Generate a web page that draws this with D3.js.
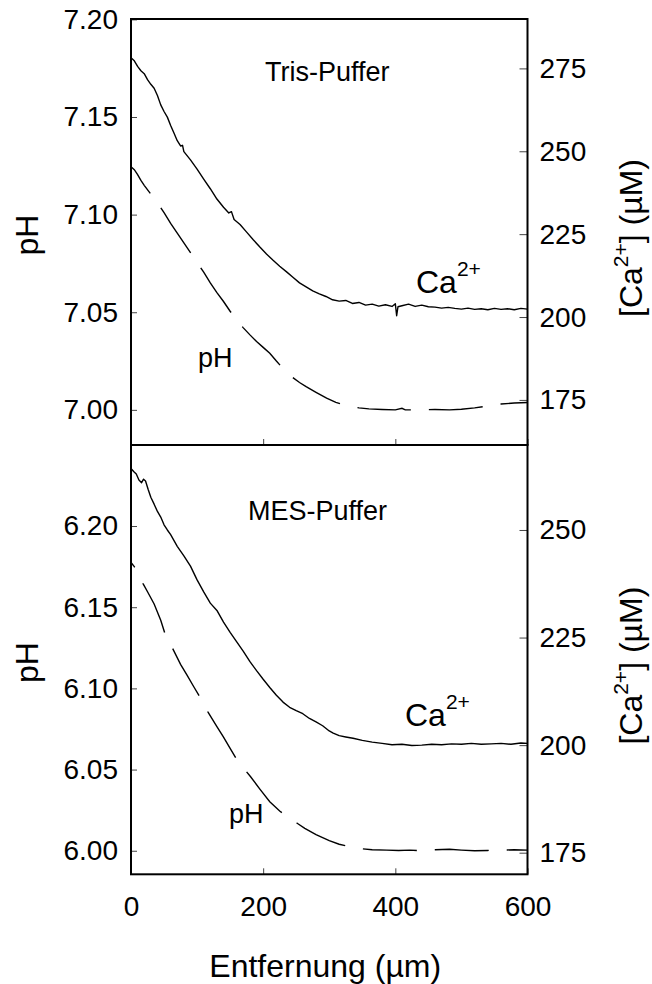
<!DOCTYPE html>
<html><head><meta charset="UTF-8">
<style>
  body { margin: 0; background: #fff; }
  svg { display: block; font-family: "Liberation Sans", Arial, Helvetica, sans-serif; }
  .tick line { stroke: #444; stroke-width: 1; }
</style>
</head>
<body>
<svg id="chart"></svg>
<script src="https://cdn.jsdelivr.net/npm/d3@7"></script>
<script>
// x axis ticks (µm)
var xTicks = [0, 200, 400, 600];

// Tris-Puffer: Ca2+ trace
var trisCaDist = [0,5,10,15,20,25,30,35,40,45,50,55,60,65,70,75,78,80,90,100,110,120,130,140,148,152,156,165,175,185,195,205,215,225,235,245,255,265,275,285,295,305,315,325,335,345,355,365,375,385,395,400,402,404,410,420,430,440,450,460,470,480,490,500,510,520,530,540,550,560,570,580,590,600];
var trisCa = [278.2,277.3,275.6,274.3,273.4,271.6,270.2,269.0,266.8,264.0,262.0,260.3,257.8,255.5,253.2,251.6,251.8,249.9,247.4,244.6,241.6,238.7,235.6,233.1,231.4,231.8,229.4,227.9,225.6,223.3,221.1,219.0,217.1,215.3,213.7,212.0,210.3,209.1,207.9,207.0,206.2,205.2,204.8,205.0,204.1,204.4,203.6,203.9,203.3,203.7,203.2,204.0,200.4,203.1,203.4,203.9,203.2,203.6,203.1,203.0,202.7,202.9,202.6,202.4,202.7,202.3,202.5,202.2,202.6,202.3,202.5,202.2,202.6,202.4];

// Tris-Puffer: pH trace
var trisPhDist = [0,5,10,15,20,30,40,50,60,70,80,90,100,110,120,130,140,150,160,170,180,190,200,210,220,230,243,255,265,280,296,310,320,331,345,360,380,400,410,415,440,460,482,500,520,540,560,580,600];
var trisPh = [7.1245,7.1230,7.1205,7.1175,7.1150,7.1105,7.1060,7.1010,7.0955,7.0905,7.0855,7.0805,7.0755,7.0705,7.0650,7.0600,7.0555,7.0505,7.0460,7.0420,7.0384,7.0350,7.0320,7.0290,7.0250,7.0212,7.0170,7.0140,7.0119,7.0090,7.0060,7.0038,7.0028,7.0017,7.0010,7.0005,7.0002,7.0000,7.0008,7.0000,7.0000,7.0002,7.0000,7.0003,7.0010,7.0020,7.0030,7.0035,7.0038];

// MES-Puffer: Ca2+ trace
var mesCaDist = [0,4,8,12,16,19,22,26,30,35,40,45,50,55,60,70,80,90,100,110,120,130,140,150,160,170,180,190,200,210,220,230,240,250,260,270,280,290,300,306,315,325,336,350,365,380,395,410,425,440,455,470,485,500,515,530,545,560,575,590,600];
var mesCa = [264.3,263.6,263.0,261.6,261.0,261.8,261.4,259.4,257.6,256.0,254.3,253.0,251.2,250.0,248.9,246.2,244.0,241.6,238.4,235.6,233.0,231.3,228.6,226.2,224.0,221.8,219.4,217.3,215.3,213.4,211.6,210.0,208.8,208.0,207.3,206.2,205.4,204.5,203.3,202.8,202.2,201.9,201.6,201.1,200.7,200.4,200.1,200.2,199.9,200.0,200.2,200.1,200.3,200.2,200.4,200.2,200.3,200.4,200.2,200.5,200.4];

// MES-Puffer: pH trace
var mesPhDist = [0,5,10,18,25,35,45,51,63,75,85,95,104,117,130,140,150,162,172,181,195,210,225,240,252,263,280,300,315,331,350,365,387,405,422,440,460,482,500,520,540,560,580,600];
var mesPh = [6.1775,6.1750,6.1715,6.1647,6.1595,6.1520,6.1420,6.1342,6.1246,6.1148,6.1080,6.1010,6.0948,6.0850,6.0765,6.0700,6.0630,6.0548,6.0500,6.0456,6.0380,6.0302,6.0245,6.0200,6.0168,6.0138,6.0100,6.0062,6.0040,6.0025,6.0012,6.0006,6.0004,6.0002,6.0004,6.0000,6.0006,6.0009,6.0004,6.0000,6.0002,6.0004,6.0006,6.0004];

// axis ticks
var trisPhTicks = [7.00, 7.05, 7.10, 7.15, 7.20];
var trisCaTicks = [175, 200, 225, 250, 275];
var mesPhTicks = [6.00, 6.05, 6.10, 6.15, 6.20];
var mesCaTicks = [175, 200, 225, 250];

var width = 652, height = 984;
var left = 131, right = 527.5;
var svg = d3.select("#chart").attr("width", width).attr("height", height);

var x = d3.scaleLinear().domain([0, 600]).range([left, right]);

var panels = [
  {top: 19, bottom: 445, phDomain: [6.982, 7.2002], caDomain: [161.4, 289.9],
   phTicks: trisPhTicks, caTicks: trisCaTicks,
   caDist: trisCaDist, ca: trisCa, phDist: trisPhDist, ph: trisPh,
   dashOffset: 21, title: "Tris-Puffer", titleX: 265, titleY: 81,
   phLabel: [198, 367], caLabel: [416, 293], showX: false},
  {top: 445, bottom: 874.3, phDomain: [5.9855, 6.2499], caDomain: [169.98, 269.75],
   phTicks: mesPhTicks, caTicks: mesCaTicks,
   caDist: mesCaDist, ca: mesCa, phDist: mesPhDist, ph: mesPh,
   dashOffset: 48, title: "MES-Puffer", titleX: 248, titleY: 520,
   phLabel: [229, 823], caLabel: [405, 726], showX: true}
];

panels.forEach(function (p) {
  var yPh = d3.scaleLinear().domain(p.phDomain).range([p.bottom, p.top]);
  var yCa = d3.scaleLinear().domain(p.caDomain).range([p.bottom, p.top]);
  var g = svg.append("g");

  // left pH axis, ticks pointing inward
  g.append("g").attr("transform", "translate(" + left + ",0)")
    .call(d3.axisLeft(yPh).tickValues(p.phTicks).tickFormat(d3.format(".2f"))
      .tickSize(-6).tickPadding(13))
    .call(function (a) { a.select(".domain").remove(); });

  // right Ca axis
  g.append("g").attr("transform", "translate(" + right + ",0)")
    .call(d3.axisRight(yCa).tickValues(p.caTicks).tickSize(-8).tickPadding(12))
    .call(function (a) { a.select(".domain").remove(); });

  // bottom x axis
  var xAxis = d3.axisBottom(x).tickValues(xTicks).tickSize(-6).tickPadding(22);
  if (!p.showX) xAxis.tickFormat("");
  g.append("g").attr("transform", "translate(0," + p.bottom + ")")
    .call(xAxis)
    .call(function (a) { a.select(".domain").remove(); });

  g.selectAll("g").attr("font-family", null).attr("font-size", null);
  g.selectAll(".tick text").attr("font-size", 28).attr("fill", "#000");

  // frame
  g.append("rect")
    .attr("x", left).attr("y", p.top)
    .attr("width", right - left).attr("height", p.bottom - p.top)
    .attr("fill", "none").attr("stroke", "#000").attr("stroke-width", 2);

  // Ca2+ trace (solid)
  var caLine = d3.line().x(function (d, i) { return x(p.caDist[i]); })
    .y(function (d) { return yCa(d); });
  g.append("path").datum(p.ca).attr("d", caLine)
    .attr("fill", "none").attr("stroke", "#000").attr("stroke-width", 1.4)
    .attr("stroke-linejoin", "round");

  // pH trace (dashed)
  var phLine = d3.line().x(function (d, i) { return x(p.phDist[i]); })
    .y(function (d) { return yPh(d); });
  g.append("path").datum(p.ph).attr("d", phLine)
    .attr("fill", "none").attr("stroke", "#000").attr("stroke-width", 1.4)
    .attr("stroke-dasharray", "54,18").attr("stroke-dashoffset", p.dashOffset);

  // annotations
  g.append("text").attr("x", p.titleX).attr("y", p.titleY)
    .attr("font-size", 27).text(p.title);
  g.append("text").attr("x", p.phLabel[0]).attr("y", p.phLabel[1])
    .attr("font-size", 27).text("pH");
  var ca = g.append("text").attr("x", p.caLabel[0]).attr("y", p.caLabel[1])
    .attr("font-size", 32);
  ca.append("tspan").text("Ca");
  ca.append("tspan").attr("dy", -17).attr("font-size", 21).text("2+");

  // left title
  svg.append("text")
    .attr("transform", "translate(38," + ((p.top + p.bottom) / 2 + 3) + ") rotate(-90)")
    .attr("text-anchor", "middle").attr("font-size", 32).text("pH");

  // right title
  var rt = svg.append("text")
    .attr("transform", "translate(642," + ((p.top + p.bottom) / 2 + 6) + ") rotate(-90)")
    .attr("text-anchor", "middle").attr("font-size", 32);
  rt.append("tspan").text("[Ca");
  rt.append("tspan").attr("dy", -14).attr("font-size", 21).text("2+");
  rt.append("tspan").attr("dy", 14).text("] (\u00b5M)");
});

// x title
svg.append("text").attr("x", (left + right) / 2 - 4).attr("y", 977)
  .attr("text-anchor", "middle").attr("font-size", 32).text("Entfernung (\u00b5m)");
</script>
</body></html>
